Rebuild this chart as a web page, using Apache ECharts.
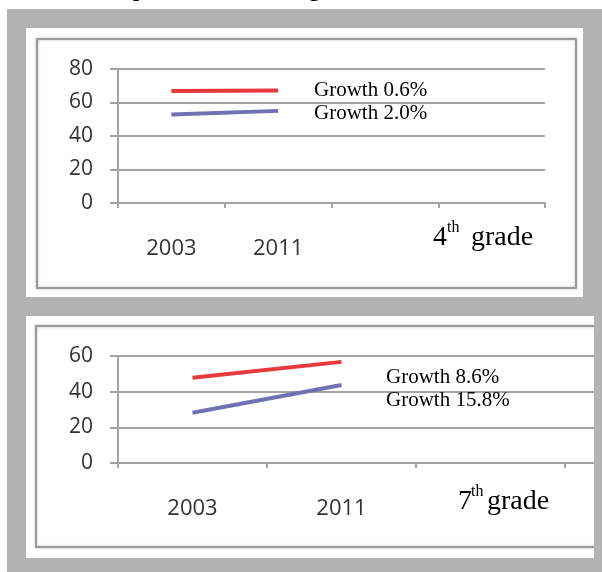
<!DOCTYPE html>
<html>
<head>
<meta charset="utf-8">
<script src="https://cdn.jsdelivr.net/npm/echarts@6/dist/echarts.min.js"></script>
<style>
  html, body { margin: 0; padding: 0; background: #ffffff; }
  #chart { width: 602px; height: 572px; }
</style>
</head>
<body>
<div id="chart"></div>
<script>
// Categories along the x axis (two survey years, two empty slots)
const years = ['2003', '2011', '', ''];

// 4th grade scores
const grade4Red = [66.8, 67.2];
const grade4Blue = [52.8, 55.0];

// 7th grade scores
const grade7Red = [47.8, 56.7];
const grade7Blue = [28.2, 43.7];

// Growth notes beside the lines
const growth4 = ['Growth 0.6%', 'Growth 2.0%'];
const growth7 = ['Growth 8.6%', 'Growth 15.8%'];

// Y axis ranges
const yMax4 = 80;
const yMax7 = 60;
const yStep = 20;

const RED = '#e8393c';
const BLUE = '#7070b2';
const GRID = '#a3a3a3';
const LABEL = '#333333';
const SERIF = '"Liberation Serif", "Times New Roman", serif';
const SANS = '"Open Sans", sans-serif';

const chart = echarts.init(document.getElementById('chart'), null, { renderer: 'canvas' });

function xAxis(gridIndex) {
  return {
    type: 'category', gridIndex, data: years, boundaryGap: true,
    axisLine: { lineStyle: { color: GRID, width: 2 } },
    axisTick: { show: true, length: 5, lineStyle: { color: GRID, width: 2 } },
    axisLabel: { color: LABEL, fontFamily: SANS, fontSize: 22, margin: 35 }
  };
}
function yAxis(gridIndex, max) {
  return {
    type: 'value', gridIndex, min: 0, max, interval: yStep,
    axisLine: { show: true, lineStyle: { color: GRID, width: 2 } },
    axisTick: { show: true, length: 8, lineStyle: { color: GRID, width: 2 } },
    splitLine: { lineStyle: { color: GRID, width: 2 } },
    axisLabel: { color: LABEL, fontFamily: SANS, fontSize: 21, margin: 25 }
  };
}
function line(xi, data, color) {
  return {
    type: 'line', xAxisIndex: xi, yAxisIndex: xi, data,
    symbol: 'none', silent: true, z: 5,
    lineStyle: { color, width: 4 }
  };
}
function txt(x, y, text, size, extra) {
  return {
    type: 'text', x, y, z: 50,
    style: Object.assign({ text, fontFamily: SERIF, fontSize: size, fill: '#000000',
                           align: 'left', verticalAlign: 'middle' }, extra || {})
  };
}

chart.setOption({
  animation: false,
  backgroundColor: '#ffffff',
  grid: [
    { left: 118, top: 69, right: 57, height: 134, outerBoundsMode: 'none' },
    // the lower plot runs past the right edge of its panel
    { left: 118, top: 356, right: -112, height: 107, outerBoundsMode: 'none' }
  ],
  xAxis: [xAxis(0), xAxis(1)],
  yAxis: [yAxis(0, yMax4), yAxis(1, yMax7)],
  series: [
    line(0, grade4Red, RED),
    line(0, grade4Blue, BLUE),
    line(1, grade7Red, RED),
    line(1, grade7Blue, BLUE)
  ],
  graphic: [
    // grey page frame and the two white panels
    { type: 'rect', z: -20, shape: { x: 7, y: 9, width: 595, height: 563 }, style: { fill: '#b3b3b3' } },
    { type: 'rect', z: -19, shape: { x: 26, y: 28, width: 557, height: 269 }, style: { fill: '#ffffff' } },
    { type: 'rect', z: -19, shape: { x: 26, y: 316, width: 568, height: 242 }, style: { fill: '#ffffff' } },
    // chart frames
    { type: 'rect', z: -18, shape: { x: 37, y: 39, width: 539, height: 249 },
      style: { fill: null, stroke: '#9a9a9a', lineWidth: 2, shadowBlur: 3, shadowColor: 'rgba(0,0,0,0.25)' } },
    { type: 'rect', z: -18, shape: { x: 36, y: 326, width: 640, height: 221 },
      style: { fill: null, stroke: '#9a9a9a', lineWidth: 2, shadowBlur: 3, shadowColor: 'rgba(0,0,0,0.25)' } },
    // grey strip that crops the lower panel on the right
    { type: 'rect', z: 40, shape: { x: 594, y: 310, width: 8, height: 262 }, style: { fill: '#b3b3b3' } },
    // descenders of the heading line above the panels
    txt(133, -10, 'p', 22, { fontWeight: 'bold' }),
    txt(309, -10, 'g', 22, { fontWeight: 'bold' }),
    // growth notes
    txt(314, 90, growth4[0], 21),
    txt(314, 113, growth4[1], 21),
    txt(386, 377, growth7[0], 21),
    txt(386, 400, growth7[1], 21),
    // grade captions
    txt(433, 238, '4', 28),
    txt(447, 228, 'th', 16),
    txt(471, 238, 'grade', 28),
    txt(458, 502, '7', 28),
    txt(471, 492, 'th', 16),
    txt(487, 502, 'grade', 28)
  ]
});
</script>
</body>
</html>
